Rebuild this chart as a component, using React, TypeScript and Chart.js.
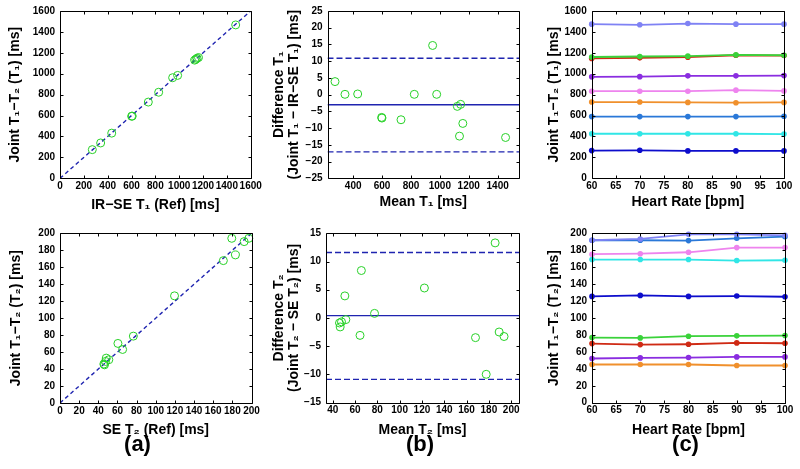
import React, { useEffect, useRef } from 'react';
import { Chart, registerables } from 'chart.js';

Chart.register(...registerables);

const FONT = "'Liberation Sans', Arial, Helvetica, sans-serif";

// ---------- Panel (a) top: T1 agreement ----------
const T1_REF = [271, 341, 434, 601, 606, 741, 828, 945, 987, 1130, 1140, 1150, 1162, 1474];
const T1_JOINT = [274, 338, 432, 593, 595, 729, 823, 962, 984, 1130, 1138, 1148, 1155, 1467];
const T1_AXIS = [0, 1600];
const T1_TICKS = [0, 200, 400, 600, 800, 1000, 1200, 1400, 1600];

// ---------- Panel (b) top: Bland-Altman T1 ----------
const BA1_MEAN = [274, 343, 431, 597, 599, 731, 823, 950, 978, 1121, 1144, 1136, 1159, 1455];
const BA1_DIFF = [3.9, 0.1, 0.2, -6.8, -7.0, -7.5, 0.1, 14.7, 0.1, -3.5, -2.9, -12.4, -8.6, -12.8];
const BA1_LINES = { mean: -3.0, upper: 10.9, lower: -17.1 };
const BA1_X = [222, 1548];
const BA1_XTICKS = [400, 600, 800, 1000, 1200, 1400];
const BA1_Y = [-25, 25];
const BA1_YTICKS = [-25, -20, -15, -10, -5, 0, 5, 10, 15, 20, 25];

// ---------- Panel (c): heart-rate dependence ----------
const HR = [60, 70, 80, 90, 100];
const HR_TICKS = [60, 65, 70, 75, 80, 85, 90, 95, 100];
const T1_HR_PERIWINKLE = [1474, 1468, 1480, 1474, 1474];
const T1_HR_GREEN = [1160, 1165, 1168, 1180, 1177];
const T1_HR_RED = [1146, 1152, 1158, 1177, 1174];
const T1_HR_PURPLE = [970, 972, 980, 980, 982];
const T1_HR_VIOLET = [833, 833, 833, 843, 836];
const T1_HR_ORANGE = [729, 729, 726, 723, 726];
const T1_HR_BLUE = [590, 590, 590, 590, 593];
const T1_HR_CYAN = [426, 426, 426, 426, 423];
const T1_HR_NAVY = [265, 268, 262, 262, 262];

const T2_HR_PERIWINKLE = [191.8, 193.3, 198.8, 198.8, 197.6];
const T2_HR_BLUE = [191.8, 191.8, 191.4, 194.1, 196.0];
const T2_HR_VIOLET = [175.3, 175.9, 177.6, 183.1, 183.1];
const T2_HR_CYAN = [169.0, 169.0, 169.0, 167.8, 168.2];
const T2_HR_NAVY = [125.5, 126.7, 125.5, 125.9, 125.1];
const T2_HR_GREEN = [76.9, 76.5, 78.5, 78.9, 79.3];
const T2_HR_RED = [69.8, 68.6, 69.0, 70.6, 70.2];
const T2_HR_PURPLE = [52.2, 52.9, 53.3, 54.1, 54.1];
const T2_HR_ORANGE = [45.1, 45.1, 45.1, 43.9, 43.9];

// ---------- Panel (a) bottom: T2 agreement ----------
const T2_REF = [45.8, 46.5, 47.6, 48.3, 51.0, 60.5, 65.4, 76.6, 119.6, 170.6, 179.4, 183.2, 192.3, 197.2];
const T2_JOINT = [45.9, 45.0, 49.0, 52.9, 51.0, 70.2, 63.1, 78.8, 126.3, 167.8, 194.1, 174.5, 190.2, 194.1];
const T2_AXIS = [0, 200];
const T2_TICKS = [0, 20, 40, 60, 80, 100, 120, 140, 160, 180, 200];

// ---------- Panel (b) bottom: Bland-Altman T2 ----------
const BA2_MEAN = [46.1, 46.7, 47.9, 50.9, 51.8, 64.5, 65.7, 77.5, 122.2, 168.0, 177.6, 185.6, 189.2, 193.6];
const BA2_DIFF = [-0.9, -1.6, -0.7, 3.9, -0.3, -3.1, 8.4, 0.8, 5.3, -3.5, -10.0, 13.3, -2.5, -3.3];
const BA2_LINES = { mean: 0.4, upper: 11.6, lower: -10.9 };
const BA2_X = [34, 207];
const BA2_XTICKS = [40, 60, 80, 100, 120, 140, 160, 180, 200];
const BA2_Y = [-15, 15];
const BA2_YTICKS = [-15, -10, -5, 0, 5, 10, 15];

const PANEL_LABELS = ['(a)', '(b)', '(c)'];

// colours
const GREEN_MARK = '#27d127';
const REF_BLUE = '#1f24b0';
const C_PERIWINKLE = '#7f82f4';
const C_GREEN = '#3ad23a';
const C_RED = '#cf2a14';
const C_PURPLE = '#8a2de0';
const C_VIOLET = '#ee84ee';
const C_ORANGE = '#f0902c';
const C_BLUE = '#2a78d8';
const C_CYAN = '#30e6e6';
const C_NAVY = '#0d0dcc';

const TITLE_SIZE = 14;
const TITLE_LH = 1.1;
const LH = TITLE_SIZE * TITLE_LH;

const pts = (xs: number[], ys: number[]) => xs.map((x, i) => ({ x, y: ys[i] }));
const fmt = (v: any) => String(v).replace('-', '\u2212');

const scatterSet = (xs: number[], ys: number[]) => ({
  data: pts(xs, ys),
  showLine: false,
  pointRadius: 4,
  pointHoverRadius: 4,
  pointBorderWidth: 1,
  pointBorderColor: GREEN_MARK,
  pointBackgroundColor: 'rgba(0,0,0,0)',
  clip: false,
  order: 0,
});

const lineSet = (data: { x: number; y: number }[], dash: number[], color = REF_BLUE) => ({
  data,
  showLine: true,
  borderColor: color,
  borderWidth: 1.4,
  borderDash: dash,
  pointRadius: 0,
  pointHoverRadius: 0,
  order: 1,
});

const hrSet = (ys: number[], color: string) => ({
  data: pts(HR, ys),
  showLine: true,
  borderColor: color,
  backgroundColor: color,
  borderWidth: 1.8,
  pointRadius: 2.8,
  pointHoverRadius: 2.8,
  pointBackgroundColor: color,
  pointBorderColor: color,
  pointBorderWidth: 0,
  clip: false,
});

const baLines = (lines: { mean: number; upper: number; lower: number }, xr: number[]) => [
  lineSet([{ x: xr[0], y: lines.upper }, { x: xr[1], y: lines.upper }], [6, 3]),
  lineSet([{ x: xr[0], y: lines.mean }, { x: xr[1], y: lines.mean }], []),
  lineSet([{ x: xr[0], y: lines.lower }, { x: xr[1], y: lines.lower }], [6, 3]),
];

type PanelSpec = {
  id: string;
  L: number; R: number; T: number; B: number;
  ytx: number; xty: number;
  xr: number[]; xt: number[]; yr: number[]; yt: number[];
  xTitle: string | string[]; yTitle: string | string[];
  datasets: any[];
};

const PANELS: PanelSpec[] = [
  {
    id: 'a1', L: 60, R: 250.7, T: 9.3, B: 178.3, ytx: 15, xty: 205,
    xr: T1_AXIS, xt: T1_TICKS, yr: T1_AXIS, yt: T1_TICKS,
    xTitle: 'IR\u2212SE T\u2081 (Ref) [ms]', yTitle: 'Joint T\u2081\u2212T\u2082 (T\u2081) [ms]',
    datasets: [
      scatterSet(T1_REF, T1_JOINT),
      lineSet([{ x: T1_AXIS[0], y: T1_AXIS[0] }, { x: T1_AXIS[1], y: T1_AXIS[1] }], [4, 3]),
    ],
  },
  {
    id: 'b1', L: 327.5, R: 519, T: 9.3, B: 178.3, ytx: 279, xty: 202.5,
    xr: BA1_X, xt: BA1_XTICKS, yr: BA1_Y, yt: BA1_YTICKS,
    xTitle: 'Mean T\u2081 [ms]', yTitle: ['Difference T\u2081', '(Joint T\u2081 \u2212 IR\u2212SE T\u2081) [ms]'],
    datasets: [scatterSet(BA1_MEAN, BA1_DIFF), ...baLines(BA1_LINES, BA1_X)],
  },
  {
    id: 'c1', L: 591.7, R: 784, T: 9.3, B: 178.3, ytx: 554, xty: 202.5,
    xr: [60, 100], xt: HR_TICKS, yr: T1_AXIS, yt: T1_TICKS,
    xTitle: 'Heart Rate [bpm]', yTitle: 'Joint T\u2081\u2212T\u2082 (T\u2081) [ms]',
    datasets: [
      hrSet(T1_HR_PERIWINKLE, C_PERIWINKLE),
      hrSet(T1_HR_GREEN, C_GREEN),
      hrSet(T1_HR_RED, C_RED),
      hrSet(T1_HR_PURPLE, C_PURPLE),
      hrSet(T1_HR_VIOLET, C_VIOLET),
      hrSet(T1_HR_ORANGE, C_ORANGE),
      hrSet(T1_HR_BLUE, C_BLUE),
      hrSet(T1_HR_CYAN, C_CYAN),
      hrSet(T1_HR_NAVY, C_NAVY),
    ],
  },
  {
    id: 'a2', L: 60, R: 251.5, T: 233.3, B: 403, ytx: 15.8, xty: 430.5,
    xr: T2_AXIS, xt: T2_TICKS, yr: T2_AXIS, yt: T2_TICKS,
    xTitle: 'SE T\u2082 (Ref) [ms]', yTitle: 'Joint T\u2081\u2212T\u2082 (T\u2082) [ms]',
    datasets: [
      scatterSet(T2_REF, T2_JOINT),
      lineSet([{ x: T2_AXIS[0], y: T2_AXIS[0] }, { x: T2_AXIS[1], y: T2_AXIS[1] }], [4, 3]),
    ],
  },
  {
    id: 'b2', L: 326, R: 519, T: 233.3, B: 402.5, ytx: 279, xty: 430.5,
    xr: BA2_X, xt: BA2_XTICKS, yr: BA2_Y, yt: BA2_YTICKS,
    xTitle: 'Mean T\u2082 [ms]', yTitle: ['Difference T\u2082', '(Joint T\u2082 \u2212 SE T\u2082) [ms]'],
    datasets: [scatterSet(BA2_MEAN, BA2_DIFF), ...baLines(BA2_LINES, BA2_X)],
  },
  {
    id: 'c2', L: 592, R: 785, T: 233.3, B: 402.7, ytx: 554, xty: 430,
    xr: [60, 100], xt: HR_TICKS, yr: T2_AXIS, yt: T2_TICKS,
    xTitle: 'Heart Rate [bpm]', yTitle: 'Joint T\u2081\u2212T\u2082 (T\u2082) [ms]',
    datasets: [
      hrSet(T2_HR_PERIWINKLE, C_PERIWINKLE),
      hrSet(T2_HR_BLUE, C_BLUE),
      hrSet(T2_HR_VIOLET, C_VIOLET),
      hrSet(T2_HR_CYAN, C_CYAN),
      hrSet(T2_HR_NAVY, C_NAVY),
      hrSet(T2_HR_GREEN, C_GREEN),
      hrSet(T2_HR_RED, C_RED),
      hrSet(T2_HR_PURPLE, C_PURPLE),
      hrSet(T2_HR_ORANGE, C_ORANGE),
    ],
  },
];

const boxPlugin = {
  id: 'matlabBox',
  afterDraw(chart: any) {
    const { ctx, chartArea: a, scales } = chart;
    const x0 = Math.round(a.left) + 0.5;
    const x1 = Math.round(a.right) + 0.5;
    const y0 = Math.round(a.top) + 0.5;
    const y1 = Math.round(a.bottom) + 0.5;
    const tl = 3;
    ctx.save();
    ctx.strokeStyle = '#000';
    ctx.lineWidth = 1;
    ctx.beginPath();
    ctx.rect(x0, y0, x1 - x0, y1 - y0);
    scales.x.ticks.forEach((t: any) => {
      const px = Math.round(scales.x.getPixelForValue(t.value)) + 0.5;
      ctx.moveTo(px, y1); ctx.lineTo(px, y1 - tl);
      ctx.moveTo(px, y0); ctx.lineTo(px, y0 + tl);
    });
    scales.y.ticks.forEach((t: any) => {
      const py = Math.round(scales.y.getPixelForValue(t.value)) + 0.5;
      ctx.moveTo(x0, py); ctx.lineTo(x0 + tl, py);
      ctx.moveTo(x1, py); ctx.lineTo(x1 - tl, py);
    });
    ctx.stroke();
    ctx.restore();
  },
};

function Panel({ spec }: { spec: PanelSpec }) {
  const ref = useRef<HTMLCanvasElement | null>(null);
  useEffect(() => {
    const canvas = ref.current;
    if (!canvas) return;
    const padLeft = spec.ytx - LH / 2;
    const yw = spec.L - padLeft;
    const boxBottom = spec.xty + LH / 2;
    const xh = boxBottom - spec.B;
    const tickFont = { family: FONT, size: 10, weight: 'bold' as const };
    const titleFont = { family: FONT, size: TITLE_SIZE, weight: 'bold' as const, lineHeight: TITLE_LH };
    const chart = new Chart(canvas, {
      type: 'scatter',
      data: { datasets: spec.datasets },
      plugins: [boxPlugin],
      options: {
        responsive: false,
        animation: false,
        events: [],
        layout: {
          padding: { left: padLeft, right: 800 - spec.R, top: spec.T, bottom: 469 - boxBottom },
        },
        plugins: { legend: { display: false }, tooltip: { enabled: false } },
        scales: {
          x: {
            type: 'linear',
            position: 'bottom',
            min: spec.xr[0],
            max: spec.xr[1],
            grid: { display: false, drawTicks: false },
            border: { display: false },
            ticks: {
              font: tickFont, color: '#000', padding: 2, autoSkip: false,
              maxRotation: 0, minRotation: 0, callback: fmt,
            },
            afterBuildTicks: (s: any) => { s.ticks = spec.xt.map((v) => ({ value: v })); },
            afterFit: (s: any) => { s.height = xh; },
            title: { display: true, text: spec.xTitle, font: titleFont, color: '#000', padding: 0 },
          },
          y: {
            type: 'linear',
            position: 'left',
            min: spec.yr[0],
            max: spec.yr[1],
            grid: { display: false, drawTicks: false },
            border: { display: false },
            ticks: { font: tickFont, color: '#000', padding: 5, autoSkip: false, callback: fmt },
            afterBuildTicks: (s: any) => { s.ticks = spec.yt.map((v) => ({ value: v })); },
            afterFit: (s: any) => { s.width = yw; },
            title: { display: true, text: spec.yTitle, font: titleFont, color: '#000', padding: 0 },
          },
        },
      } as any,
    });
    return () => chart.destroy();
  }, [spec]);
  return (
    <canvas
      ref={ref}
      width={800}
      height={469}
      style={{ position: 'absolute', left: 0, top: 0, width: 800, height: 469 }}
    />
  );
}

const LABEL_X = [137.5, 420, 685.5];

export default function App() {
  return (
    <div
      style={{
        position: 'absolute', left: 0, top: 0, width: 800, height: 469,
        background: '#fff', overflow: 'hidden',
      }}
    >
      {PANELS.map((p) => (
        <Panel key={p.id} spec={p} />
      ))}
      {PANEL_LABELS.map((t, i) => (
        <div
          key={t}
          style={{
            position: 'absolute', left: LABEL_X[i], top: 444,
            transform: 'translate(-50%, -50%)', fontFamily: FONT, fontWeight: 'bold',
            fontSize: 22, lineHeight: 1, color: '#000', whiteSpace: 'nowrap',
          }}
        >
          {t}
        </div>
      ))}
    </div>
  );
}
